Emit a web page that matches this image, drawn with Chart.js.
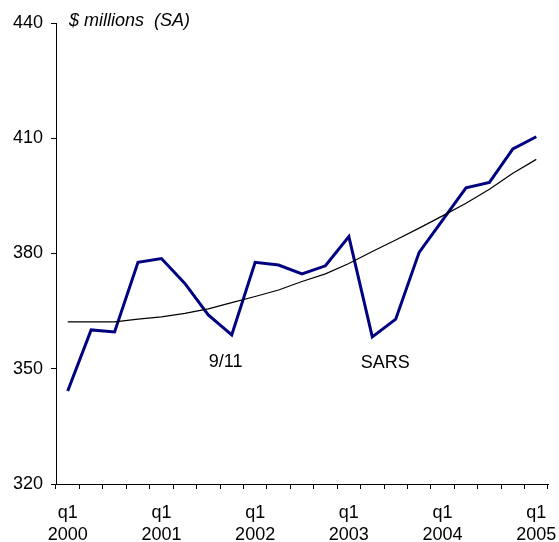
<!DOCTYPE html>
<html>
<head>
<meta charset="utf-8">
<script src="https://cdn.jsdelivr.net/npm/chart.js@4"></script>
<style>
  html, body { margin: 0; padding: 0; background: #fff; }
  #wrap { width: 559px; height: 542px; position: relative; }
</style>
</head>
<body>
<div id="wrap"><canvas id="c" width="559" height="542"></canvas></div>
<script>
const quarters = ["2000q1","2000q2","2000q3","2000q4","2001q1","2001q2","2001q3","2001q4",
  "2002q1","2002q2","2002q3","2002q4","2003q1","2003q2","2003q3","2003q4",
  "2004q1","2004q2","2004q3","2004q4","2005q1"];
const actual = [344.2,360.1,359.6,377.7,378.7,372.2,364.0,358.8,377.7,377.0,374.7,376.8,
  384.4,358.3,362.9,380.3,388.7,397.1,398.5,407.2,410.4];
const trend = [362.2,362.2,362.2,362.9,363.5,364.4,365.6,367.2,368.8,370.5,372.7,374.7,
  377.4,380.5,383.5,386.6,389.8,393.1,396.7,400.9,404.5];
const yTicks = [320,350,380,410,440];
const unitLabel = "$ millions  (SA)";
const annotations = [
  { text: "9/11", x: 6.74, y: 351.8 },
  { text: "SARS", x: 13.55, y: 351.6 }
];

const FONT = '"Liberation Sans", Arial, sans-serif';

const textPlugin = {
  id: 'texts',
  afterDraw(chart) {
    const ctx = chart.ctx;
    const xs = chart.scales.x, ys = chart.scales.y;
    ctx.save();
    ctx.fillStyle = '#000';
    ctx.font = '18px ' + FONT;
    ctx.textAlign = 'center';
    ctx.textBaseline = 'middle';
    annotations.forEach(a => {
      ctx.fillText(a.text, xs.getPixelForValue(a.x), ys.getPixelForValue(a.y));
    });
    ctx.font = 'italic 18px ' + FONT;
    ctx.textAlign = 'left';
    ctx.fillText(unitLabel, chart.chartArea.left + 13, chart.chartArea.top - 2);
    ctx.restore();
  }
};

new Chart(document.getElementById('c'), {
  type: 'line',
  data: {
    labels: quarters,
    datasets: [
      { data: trend, borderColor: '#000', borderWidth: 1.2, pointRadius: 0, tension: 0, fill: false },
      { data: actual, borderColor: '#000080', borderWidth: 3, pointRadius: 0, tension: 0, fill: false }
    ]
  },
  options: {
    responsive: false,
    animation: false,
    events: [],
    layout: { padding: { top: 23, right: 11, left: 0, bottom: 0 } },
    plugins: { legend: { display: false }, tooltip: { enabled: false } },
    scales: {
      x: {
        type: 'category',
        offset: true,
        grid: { offset: true, drawOnChartArea: false, drawTicks: true, tickLength: 5, color: '#000' },
        border: { display: true, color: '#000', width: 1 },
        ticks: {
          autoSkip: false, maxRotation: 0, minRotation: 0, padding: 13,
          color: '#000', font: { family: FONT, size: 18, lineHeight: 1.22 },
          callback: function(v, i) {
            const q = quarters[i];
            return q.endsWith('q1') ? ['q1', q.slice(0, 4)] : '';
          }
        },
        afterFit(scale) { scale.height = 58; scale.paddingLeft = 0; scale.paddingRight = 0; }
      },
      y: {
        min: 320, max: 440,
        afterBuildTicks(scale) { scale.ticks = yTicks.map(v => ({ value: v })); },
        grid: { drawOnChartArea: false, drawTicks: true, tickLength: 5, color: '#000' },
        border: { display: true, color: '#000', width: 1 },
        ticks: { padding: 8, color: '#000', font: { family: FONT, size: 18 } },
        afterFit(scale) { scale.width = 56; scale.paddingTop = 0; scale.paddingBottom = 0; }
      }
    }
  },
  plugins: [textPlugin]
});
</script>
</body>
</html>
